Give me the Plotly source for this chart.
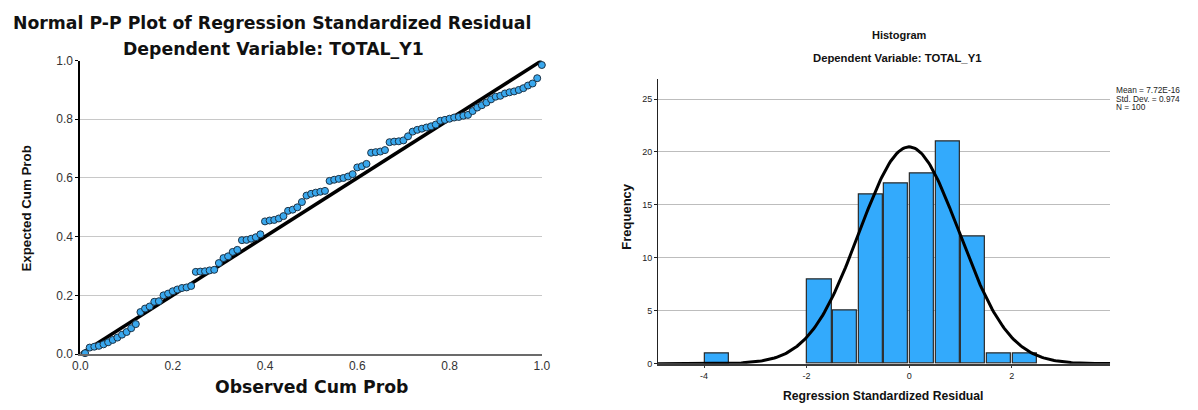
import numpy as np
import plotly.graph_objects as go

# ---------------- P-P plot data ----------------
observed_cum_prob = [
    0.01, 0.02, 0.03, 0.04, 0.05, 0.06, 0.07, 0.08, 0.09, 0.10,
    0.11, 0.12, 0.13, 0.14, 0.15, 0.16, 0.17, 0.18, 0.19, 0.20,
    0.21, 0.22, 0.23, 0.24, 0.25, 0.26, 0.27, 0.28, 0.29, 0.30,
    0.31, 0.32, 0.33, 0.34, 0.35, 0.36, 0.37, 0.38, 0.39, 0.40,
    0.41, 0.42, 0.43, 0.44, 0.45, 0.46, 0.47, 0.48, 0.49, 0.50,
    0.51, 0.52, 0.53, 0.54, 0.55, 0.56, 0.57, 0.58, 0.59, 0.60,
    0.61, 0.62, 0.63, 0.64, 0.65, 0.66, 0.67, 0.68, 0.69, 0.70,
    0.71, 0.72, 0.73, 0.74, 0.75, 0.76, 0.77, 0.78, 0.79, 0.80,
    0.81, 0.82, 0.83, 0.84, 0.85, 0.86, 0.87, 0.88, 0.89, 0.90,
    0.91, 0.92, 0.93, 0.94, 0.95, 0.96, 0.97, 0.98, 0.99, 1.00,
]
expected_cum_prob = [
    0.003, 0.022, 0.025, 0.028, 0.033, 0.040, 0.048, 0.056, 0.066, 0.075,
    0.088, 0.102, 0.143, 0.155, 0.162, 0.178, 0.180, 0.200, 0.206, 0.214,
    0.220, 0.225, 0.227, 0.232, 0.280, 0.281, 0.282, 0.285, 0.287, 0.310,
    0.327, 0.333, 0.348, 0.355, 0.388, 0.389, 0.393, 0.398, 0.408, 0.452,
    0.455, 0.457, 0.462, 0.470, 0.488, 0.492, 0.500, 0.518, 0.540, 0.546,
    0.550, 0.553, 0.556, 0.590, 0.594, 0.597, 0.600, 0.605, 0.613, 0.636,
    0.640, 0.648, 0.686, 0.688, 0.690, 0.695, 0.722, 0.724, 0.725, 0.728,
    0.742, 0.758, 0.764, 0.768, 0.772, 0.776, 0.782, 0.795, 0.798, 0.802,
    0.806, 0.808, 0.812, 0.815, 0.828, 0.840, 0.848, 0.857, 0.868, 0.877,
    0.880, 0.888, 0.892, 0.895, 0.900, 0.906, 0.915, 0.922, 0.940, 0.985,
]
ref_line_x = [0.0, 1.0]
ref_line_y = [0.0, 1.0]
pp_ticks = [0.0, 0.2, 0.4, 0.6, 0.8, 1.0]
pp_ticklabels = ["0.0", "0.2", "0.4", "0.6", "0.8", "1.0"]

# ---------------- Histogram data ----------------
bin_starts = [-4.0, -2.0, -1.5, -1.0, -0.5, 0.0, 0.5, 1.0, 1.5, 2.0]
bin_counts = [1, 8, 5, 16, 17, 18, 21, 12, 1, 1]
BIN_WIDTH = 0.5
MEAN = 7.72e-16
SD = 0.974
N = 100
stats_lines = ["Mean = 7.72E-16", "Std. Dev. = 0.974", "N = 100"]
hist_xticks = [-4, -2, 0, 2]
hist_xticklabels = ["-4", "-2", "0", "2"]
hist_yticks = [0, 5, 10, 15, 20, 25]

# normal curve defined by the stated mean / sd / N
curve_x = np.linspace(-4.9, 3.92, 300)
curve_y = N * BIN_WIDTH / (SD * np.sqrt(2 * np.pi)) * np.exp(-0.5 * ((curve_x - MEAN) / SD) ** 2)

W, H = 1198, 410
def px(x):
    return x / W
def py(y):
    return (H - y) / H

fig = go.Figure()

fig.add_trace(go.Scatter(
    x=ref_line_x, y=ref_line_y, mode="lines",
    line=dict(color="black", width=3.5),
    xaxis="x", yaxis="y", showlegend=False, hoverinfo="skip", cliponaxis=False,
))
fig.add_trace(go.Scatter(
    x=observed_cum_prob, y=expected_cum_prob, mode="markers",
    marker=dict(size=7, color="#39A8EE", line=dict(color="#1d3346", width=1)),
    xaxis="x", yaxis="y", showlegend=False, cliponaxis=False,
))

bar_centers = [b + BIN_WIDTH / 2 for b in bin_starts]
fig.add_trace(go.Bar(
    x=bar_centers, y=bin_counts, width=BIN_WIDTH * 0.94,
    marker=dict(color="#33AAFC", line=dict(color="#2a2a2a", width=1.2)),
    xaxis="x2", yaxis="y2", showlegend=False,
))
fig.add_trace(go.Scatter(
    x=curve_x, y=curve_y, mode="lines",
    line=dict(color="black", width=3),
    xaxis="x2", yaxis="y2", showlegend=False, hoverinfo="skip",
))

tick_font_left = dict(family="Liberation Sans, Arial, sans-serif", size=12, color="#333333")
tick_font_right = dict(family="Liberation Sans, Arial, sans-serif", size=9, color="#222222")

fig.update_layout(
    width=W, height=H,
    margin=dict(l=0, r=0, t=0, b=0),
    paper_bgcolor="white", plot_bgcolor="white",
    bargap=0,
    xaxis=dict(
        domain=[px(73.5), px(541.5)], range=[0, 1], anchor="y",
        tickvals=pp_ticks, ticktext=pp_ticklabels, tickfont=tick_font_left,
        showgrid=False, zeroline=False,
        showline=True, linecolor="#6b6b6b", linewidth=2,
        ticks="", ticklen=0,
    ),
    yaxis=dict(
        domain=[py(359.3), py(55.5)], range=[0, 1], anchor="x",
        tickvals=pp_ticks, ticktext=pp_ticklabels, tickfont=tick_font_left,
        showgrid=True, gridcolor="#c8c8c8", gridwidth=1, zeroline=False,
        showline=True, linecolor="black", linewidth=2,
        ticks="outside", ticklen=3, tickcolor="black",
    ),
    xaxis2=dict(
        domain=[px(659.3), px(1118)], range=[-4.9, 3.92], anchor="y2",
        tickvals=hist_xticks, ticktext=hist_xticklabels, tickfont=tick_font_right,
        showgrid=False, zeroline=False,
        showline=True, linecolor="#3a3a3a", linewidth=1.5,
        ticks="outside", ticklen=3, tickcolor="#3a3a3a",
    ),
    yaxis2=dict(
        domain=[py(369.3), py(75)], range=[0, 26.85], anchor="x2",
        tickvals=hist_yticks, tickfont=tick_font_right,
        showgrid=True, gridcolor="#bdbdbd", gridwidth=1, zeroline=False,
        showline=True, linecolor="#222222", linewidth=1,
        ticks="outside", ticklen=3, tickcolor="#222222",
    ),
)

title_font = dict(family="DejaVu Sans, sans-serif", size=17.3, color="#111111")
lab = "Liberation Sans, Arial, sans-serif"
ann = [
    dict(text="<b>Normal P-P Plot of Regression Standardized Residual</b>", x=px(268), y=py(17),
         font=title_font),
    dict(text="<b>Dependent Variable: TOTAL_Y1</b>", x=px(269), y=py(44), font=title_font),
    dict(text="<b>Observed Cum Prob</b>", x=px(307.5), y=py(393),
         font=dict(family="DejaVu Sans, sans-serif", size=17.3, color="#111111")),
    dict(text="<b>Expected Cum Prob</b>", x=px(19), y=py(209), textangle=-90,
         font=dict(family=lab, size=13.3, color="#111111")),
    dict(text="<b>Histogram</b>", x=px(904), y=py(29),
         font=dict(family=lab, size=11, color="#111111")),
    dict(text="<b>Dependent Variable: TOTAL_Y1</b>", x=px(902), y=py(53),
         font=dict(family=lab, size=11.3, color="#111111")),
    dict(text="<b>Frequency</b>", x=px(627), y=py(217), textangle=-90,
         font=dict(family=lab, size=13, color="#111111")),
    dict(text="<b>Regression Standardized Residual</b>", x=px(888), y=py(403),
         font=dict(family=lab, size=12.2, color="#111111")),
]
for i, line in enumerate(stats_lines):
    ann.append(dict(text=line, x=px(1122), y=py(86 + 9 * i), xanchor="left",
                    font=dict(family=lab, size=8.3, color="#222222")))
for a in ann:
    a.setdefault("xanchor", "center")
    a.setdefault("yanchor", "middle")
    fig.add_annotation(xref="paper", yref="paper", showarrow=False, **a)

fig.write_html(
    "out.html",
    config={"displayModeBar": False},
    post_script="document.body.style.margin='0';document.body.style.overflow='hidden';",
)
